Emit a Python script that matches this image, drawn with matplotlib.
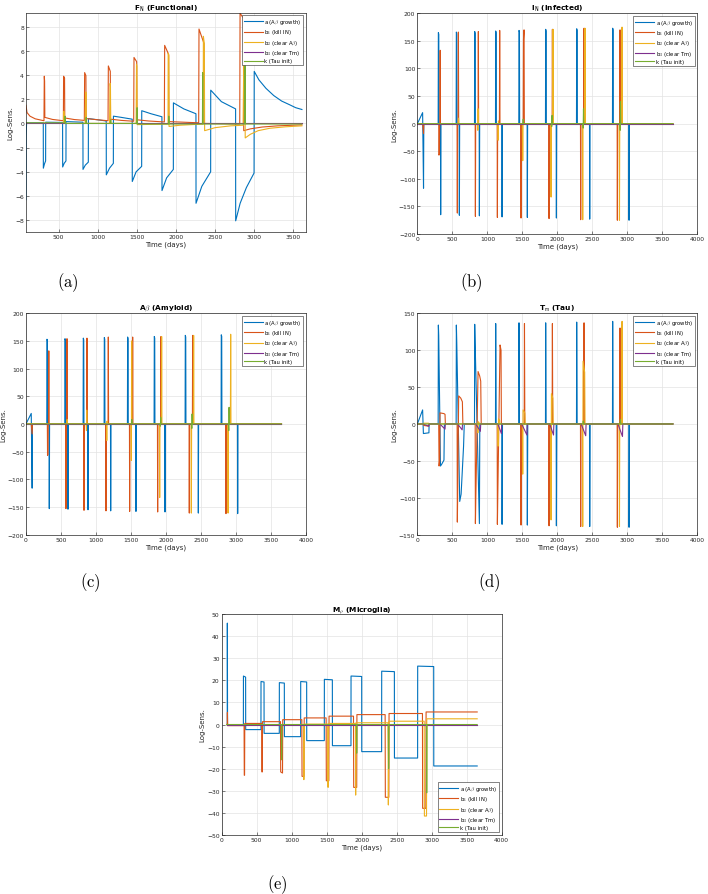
import matplotlib
matplotlib.use('Agg')
import matplotlib.pyplot as plt

plt.rcParams['mathtext.fontset'] = 'cm'

# MATLAB default line colours
colors = ['#0072BD', '#D95319', '#EDB120', '#7E2F8E', '#77AC30']
labels = [r'a (A$\beta$ growth)', r'b$_1$ (kill IN)', r'b$_2$ (clear A$\beta$)',
          r'b$_3$ (clear Tm)', 'k (Tau init)']

# ---------------- (a) F_N : (time, log-sensitivity) points ----------------
fn_a = [(82, -6.3), (84, -1.0), (90, 0.05), (303, 0.05),
        (304, -3.7), (318, -3.35), (333, -3.1), (334, 0.1), (550, 0.08),
        (551, -3.6), (570, -3.3), (593, -3.1), (594, 0.15), (810, 0.1),
        (811, -3.8), (840, -3.45), (879, -3.2), (880, 0.4), (1000, 0.3), (1108, 0.2),
        (1109, -4.25), (1150, -3.7), (1199, -3.3), (1200, 0.6), (1300, 0.5), (1440, 0.35),
        (1441, -4.8), (1490, -4.0), (1561, -3.55), (1562, 1.05), (1680, 0.8), (1820, 0.55),
        (1821, -5.55), (1880, -4.5), (1966, -3.8), (1967, 1.7), (2100, 1.2), (2255, 0.8),
        (2256, -6.6), (2330, -5.2), (2443, -4.0), (2444, 2.75), (2580, 1.8), (2762, 1.2),
        (2763, -8.05), (2820, -6.6), (2900, -5.3), (2998, -4.1), (3000, 4.3), (3060, 3.6),
        (3150, 2.9), (3250, 2.3), (3350, 1.85), (3450, 1.55), (3530, 1.3), (3610, 1.15)]
fn_b1 = [(82, 1.5), (95, 0.9), (133, 0.6), (200, 0.38), (312, 0.22),
         (316, 3.9), (320, 3.5), (323, 0.5), (420, 0.33), (560, 0.22),
         (563, 3.9), (575, 3.75), (578, 0.45), (700, 0.32), (828, 0.25),
         (832, 4.2), (848, 3.95), (851, 0.4), (1000, 0.3), (1131, 0.22),
         (1135, 4.75), (1160, 4.3), (1163, 0.35), (1300, 0.25), (1459, 0.18),
         (1463, 5.45), (1497, 5.1), (1500, 0.3), (1650, 0.2), (1851, 0.12),
         (1855, 6.45), (1906, 5.7), (1909, 0.15), (2100, 0.1), (2290, 0.05),
         (2294, 7.8), (2358, 6.6), (2361, 0.0), (2815, -0.05),
         (2819, 9.1), (2861, 8.7), (2866, -0.6), (2950, -0.45), (3100, -0.3),
         (3300, -0.2), (3610, -0.12)]
fn_b2 = [(82, 0.0), (562, 0.0), (566, 1.0), (572, 0.3), (576, 0.0), (838, 0.0),
         (846, 2.6), (850, 2.4), (853, 0.0), (1150, 0.0),
         (1158, 3.3), (1162, 3.0), (1165, 0.0), (1490, 0.0),
         (1495, 4.9), (1500, 4.7), (1503, -0.1), (1898, -0.05),
         (1900, 5.8), (1908, 5.6), (1911, -0.25), (2050, -0.15), (2348, -0.05),
         (2350, 7.2), (2362, 6.6), (2366, -0.6), (2500, -0.35), (2700, -0.2), (2858, -0.15),
         (2866, 5.2), (2880, 5.0), (2885, -1.2), (2950, -0.9), (3050, -0.6),
         (3200, -0.4), (3400, -0.28), (3610, -0.2)]
fn_b3 = [(82, 0.0), (3610, 0.0)]
fn_k = [(82, 0.05), (580, 0.05), (582, 0.6), (585, 0.0), (850, 0.0), (852, 0.5), (855, 0.0),
        (1163, 0.0), (1165, 0.3), (1168, 0.0), (1500, 0.0), (1503, 1.3), (1507, -0.05),
        (1906, -0.05), (1908, 0.6), (1912, -0.05), (2338, -0.05), (2341, 4.2), (2346, -0.05),
        (2878, -0.05), (2882, 5.0), (2888, -0.05), (3610, -0.05)]

# ---------------- (b) I_N ----------------
in_a = [(0, 0), (75, 20), (88, -117), (92, 0),
        (297, 0), (300, 165), (306, 162), (309, 0), (330, 0), (333, -165), (337, 0),
        (554, 0), (557, 166), (563, 163), (566, 0), (597, 0), (600, -166), (604, 0),
        (816, 0), (819, 167), (825, 164), (828, 0), (883, 0), (886, -167), (890, 0),
        (1116, 0), (1119, 168), (1125, 165), (1128, 0), (1207, 0), (1210, -169), (1214, 0),
        (1449, 0), (1452, 169), (1458, 166), (1461, 0), (1568, 0), (1571, -170), (1575, 0),
        (1830, 0), (1833, 171), (1839, 168), (1842, 0), (1983, 0), (1986, -171), (1990, 0),
        (2273, 0), (2276, 172), (2282, 169), (2285, 0), (2459, 0), (2462, -173), (2466, 0),
        (2787, 0), (2790, 173), (2796, 170), (2799, 0), (3021, 0), (3024, -175), (3028, 0),
        (3650, 0)]
in_b1 = [(0, 0), (75, 0), (88, -18), (92, 0),
         (305, 0), (308, -57), (314, -55), (318, 0), (322, 0), (326, 133), (330, 0),
         (567, 0), (571, -162), (575, 0), (582, 0), (586, 166), (590, 0),
         (826, 0), (829, -168), (833, 0), (867, 0), (871, 167), (875, 0),
         (1140, 0), (1143, -170), (1147, 0), (1172, 0), (1176, 169), (1180, 0),
         (1478, 0), (1481, -171), (1485, 0), (1512, 0), (1516, 153), (1524, 170), (1528, 0),
         (1878, 0), (1881, -172), (1885, 0), (1925, 0), (1929, 171), (1933, 0),
         (2330, 0), (2333, -174), (2337, 0), (2377, 0), (2381, 173), (2385, 0),
         (2854, 0), (2857, -175), (2861, 0), (2891, 0), (2895, 170), (2899, 0), (3650, 0)]
in_b2 = [(0, 0), (583, 0), (588, 10), (592, 0),
         (860, 0), (864, -12), (868, 27), (872, 0),
         (1150, 0), (1154, -30), (1158, 5), (1162, 0),
         (1500, 0), (1505, -67), (1510, 0),
         (1905, 0), (1910, -133), (1914, 0), (1934, 0), (1938, 171), (1942, 0),
         (2358, 0), (2362, -174), (2366, 0), (2391, 0), (2395, 173), (2399, 0),
         (2883, 0), (2887, -175), (2891, 0), (2920, 0), (2924, 175), (2928, 0), (3650, 0)]
in_b3 = [(0, 0), (3650, 0)]
in_k = [(0, 0), (1508, 0), (1512, 8), (1516, 0), (1915, 0), (1920, -5), (1924, 15),
        (1928, 0), (2365, 0), (2369, -8), (2373, 27), (2377, 0), (2893, 0), (2897, -12),
        (2901, 40), (2905, 0), (3650, 0)]

# ---------------- (c) A-beta ----------------
ab_a = [(0, 0), (75, 19), (88, -116), (92, 0),
        (297, 0), (300, 153), (306, 150), (309, 0), (330, 0), (333, -153), (337, 0),
        (554, 0), (557, 154), (563, 151), (566, 0), (597, 0), (600, -154), (604, 0),
        (816, 0), (819, 155), (825, 152), (828, 0), (883, 0), (886, -155), (890, 0),
        (1116, 0), (1119, 156), (1125, 153), (1128, 0), (1207, 0), (1210, -157), (1214, 0),
        (1449, 0), (1452, 157), (1458, 154), (1461, 0), (1568, 0), (1571, -158), (1575, 0),
        (1830, 0), (1833, 158), (1839, 155), (1842, 0), (1983, 0), (1986, -159), (1990, 0),
        (2273, 0), (2276, 160), (2282, 157), (2285, 0), (2459, 0), (2462, -161), (2466, 0),
        (2787, 0), (2790, 161), (2796, 158), (2799, 0), (3021, 0), (3024, -162), (3028, 0),
        (3650, 0)]
ab_b1 = [(0, 0), (75, 0), (88, -18), (92, 0),
         (305, 0), (308, -57), (314, -55), (318, 0), (322, 0), (326, 132), (330, 0),
         (567, 0), (571, -153), (575, 0), (582, 0), (586, 154), (590, 0),
         (826, 0), (829, -156), (833, 0), (867, 0), (871, 155), (875, 0),
         (1140, 0), (1143, -157), (1147, 0), (1172, 0), (1176, 157), (1180, 0),
         (1478, 0), (1481, -158), (1485, 0), (1520, 0), (1524, 157), (1528, 0),
         (1878, 0), (1881, -159), (1885, 0), (1925, 0), (1929, 158), (1933, 0),
         (2330, 0), (2333, -161), (2337, 0), (2377, 0), (2381, 160), (2385, 0),
         (2854, 0), (2857, -162), (2861, 0), (3650, 0)]
ab_b2 = [(0, 0), (583, 0), (588, 8), (592, 0),
         (860, 0), (864, -12), (868, 25), (872, 0),
         (1150, 0), (1154, -30), (1158, 5), (1162, 0),
         (1500, 0), (1505, -66), (1510, 150), (1514, 0),
         (1905, 0), (1910, -133), (1914, 0), (1934, 0), (1938, 158), (1942, 0),
         (2358, 0), (2362, -161), (2366, 0), (2391, 0), (2395, 160), (2399, 0),
         (2883, 0), (2887, -161), (2891, 0), (2920, 0), (2924, 162), (2928, 0), (3650, 0)]
ab_b3 = [(0, 0), (3650, 0)]
ab_k = [(0, 0), (1508, 0), (1512, 8), (1516, 0), (1915, 0), (1920, -4), (1924, 12),
        (1928, 0), (2365, 0), (2369, -8), (2373, 18), (2377, 0), (2893, 0), (2897, -12),
        (2901, 30), (2905, 0), (3650, 0)]

# ---------------- (d) T_m ----------------
tm_a = [(0, 0), (75, 19), (86, -13), (165, -12), (168, 0),
        (297, 0), (300, 134), (305, 120), (330, -57), (345, -55), (380, -49), (386, 0),
        (554, 0), (557, 134), (563, 110), (605, -105), (625, -95), (660, -30), (670, 0),
        (816, 0), (819, 135), (825, 110), (886, -135), (892, 0),
        (1116, 0), (1119, 136), (1125, 0), (1207, 0), (1210, -136), (1216, 0),
        (1449, 0), (1452, 137), (1458, 0), (1568, 0), (1571, -137), (1577, 0),
        (1830, 0), (1833, 137), (1839, 0), (1983, 0), (1986, -138), (1992, 0),
        (2273, 0), (2276, 138), (2282, 0), (2459, 0), (2462, -139), (2468, 0),
        (2787, 0), (2790, 139), (2796, 0), (3021, 0), (3024, -140), (3030, 0), (3650, 0)]
tm_b1 = [(0, 0), (80, 0), (90, -2), (160, -3), (170, 0),
         (305, 0), (310, -57), (318, -50), (323, 15), (380, 14), (395, 13), (400, 0),
         (568, 0), (571, -133), (575, -100), (590, 38), (620, 35), (643, 30), (650, 0),
         (826, 0), (829, -135), (835, -100), (867, 71), (890, 65), (905, 58), (912, 0),
         (1140, 0), (1143, -136), (1150, -90), (1181, 107), (1195, 100), (1200, 0),
         (1478, 0), (1481, -137), (1485, 0), (1526, 0), (1530, 136), (1535, 0),
         (1878, 0), (1881, -138), (1885, 0), (1925, 0), (1929, 136), (1934, 0),
         (2330, 0), (2333, -139), (2337, 0), (2377, 0), (2381, 137), (2386, 0),
         (2854, 0), (2857, -140), (2861, 0), (2891, 0), (2895, 130), (2900, 0), (3650, 0)]
tm_b2 = [(0, 0), (80, 0), (90, 1), (160, 1), (170, 0),
         (860, 0), (864, -12), (868, 3), (880, 2), (885, 0),
         (1150, 0), (1154, -30), (1159, 7), (1175, 5), (1180, 0),
         (1500, 0), (1505, -68), (1510, 19), (1535, 15), (1540, 0),
         (1905, 0), (1910, -130), (1915, 41), (1935, 35), (1940, 0),
         (2358, 0), (2362, -139), (2367, 85), (2390, 70), (2395, 0),
         (2883, 0), (2887, -139), (2891, 0), (2920, 0), (2924, 139), (2928, 0), (3650, 0)]
tm_b3 = [(0, 0), (80, 0), (160, -3), (170, 0),
         (320, 0), (395, -7), (400, 0), (575, 0), (640, -8), (645, 0),
         (835, 0), (900, -10), (905, 0), (1150, 0), (1200, -13), (1205, 0),
         (1490, 0), (1565, -15), (1570, 0), (1890, 0), (1945, -15), (1950, 0),
         (2340, 0), (2405, -16), (2410, 0), (2865, 0), (2930, -17), (2935, 0), (3650, 0)]
tm_k = [(0, 0), (2365, 0), (2370, 4), (2376, 0), (2895, 0), (2900, 6), (2906, 0), (3650, 0)]

# ---------------- (e) M_rho ----------------
mr_a = [(72, 0), (80, 0), (81, 46), (84, 0), (310, -0.3),
        (311, 22), (342, 21.5), (343, -2.3), (561, -2.3),
        (562, 19.5), (605, 19.3), (606, -4.0), (823, -4.0),
        (824, 19), (895, 18.8), (896, -5.5), (1128, -5.5),
        (1129, 19.5), (1214, 19.3), (1215, -7.3), (1466, -7.3),
        (1467, 20.5), (1581, 20.3), (1582, -9.6), (1847, -9.6),
        (1848, 22), (2000, 21.8), (2001, -12.3), (2285, -12.3),
        (2286, 24.2), (2467, 24), (2468, -15.2), (2799, -15.2),
        (2800, 26.5), (3029, 26.3), (3030, -18.8), (3650, -18.8)]
mr_b1 = [(72, 0), (80, 0), (82, 5.5), (85, -0.5), (320, -0.5),
         (323, -23), (327, -23), (330, 0.5), (572, 0.5),
         (575, -21.5), (580, -21.5), (583, 1.3), (840, 1.3),
         (843, -21.5), (869, -22), (872, 2.2), (1145, 2.2),
         (1148, -23.5), (1176, -23.5), (1179, 3.0), (1492, 3.0),
         (1495, -25.5), (1531, -25.5), (1534, 3.8), (1883, 3.8),
         (1886, -28.5), (1929, -28.5), (1932, 4.5), (2335, 4.5),
         (2338, -33), (2388, -33), (2391, 5.0), (2868, 5.0),
         (2871, -38), (2917, -38), (2920, 5.7), (3650, 5.7)]
mr_b2 = [(72, 0), (1170, 0), (1174, -25), (1178, 0.2), (1516, 0.2), (1520, -28.5),
         (1525, 0.5), (1910, 0.5), (1914, -32), (1919, 0.8), (2376, 0.8), (2381, -36.5),
         (2388, 1.5), (2893, 1.5), (2896, -41.5), (2926, -41.5), (2930, 2.6), (3650, 2.6)]
mr_b3 = [(72, 0), (3650, 0)]
mr_k = [(72, 0), (852, 0), (856, -16), (860, 0), (1924, 0), (1929, -13), (1934, 0),
        (2380, 0), (2385, -20), (2390, 0), (2925, 0), (2929, -31), (2934, 0), (3650, 0)]


def draw(ax, series, title, xlim, xticks, ylim, yticks, legloc):
    for pts, c, lab in zip(series, colors, labels):
        t = [p[0] for p in pts]
        v = [p[1] for p in pts]
        ax.plot(t, v, color=c, lw=0.8, label=lab)
    ax.set_xlim(xlim)
    ax.set_ylim(ylim)
    ax.set_xticks(xticks)
    ax.set_yticks(yticks)
    ax.grid(True, color='#e3e3e3', lw=0.5)
    ax.set_axisbelow(True)
    ax.tick_params(labelsize=4.3, length=2, width=0.4, direction='in',
                   colors='#262626', pad=1.5)
    for s in ax.spines.values():
        s.set_linewidth(0.5)
        s.set_color('#262626')
    ax.set_title(title, fontsize=5.3, fontweight='bold', pad=2)
    ax.set_xlabel('Time (days)', fontsize=5, labelpad=1, color='#262626')
    ax.set_ylabel('Log-Sens.', fontsize=5, labelpad=1, color='#262626')
    leg = ax.legend(loc=legloc, fontsize=3.8, frameon=True, fancybox=False,
                    framealpha=1, edgecolor='#262626', handlelength=3.6,
                    borderpad=0.35, labelspacing=0.25, borderaxespad=0.5,
                    handletextpad=0.3)
    leg.get_frame().set_linewidth(0.4)


fig = plt.figure(figsize=(7.08, 8.95), dpi=100)
ticks4k = list(range(0, 4001, 500))

ax1 = fig.add_axes([0.0367, 0.7393, 0.3955, 0.2454])
draw(ax1, [fn_a, fn_b1, fn_b2, fn_b3, fn_k], r'F$_\mathsf{N}$ (Functional)',
     (82, 3662), list(range(500, 3501, 500)), (-9.0, 9.15), list(range(-8, 9, 2)),
     'upper right')

ax2 = fig.add_axes([0.5895, 0.7374, 0.3955, 0.2466])
draw(ax2, [in_a, in_b1, in_b2, in_b3, in_k], r'I$_\mathsf{N}$ (Infected)',
     (0, 4000), ticks4k, (-200, 200), list(range(-200, 201, 50)), 'upper right')

ax3 = fig.add_axes([0.0367, 0.4015, 0.3955, 0.2474])
draw(ax3, [ab_a, ab_b1, ab_b2, ab_b3, ab_k], r'A$\beta$ (Amyloid)',
     (0, 4000), ticks4k, (-200, 200), list(range(-200, 201, 50)), 'upper right')

ax4 = fig.add_axes([0.5895, 0.4015, 0.3955, 0.2474])
draw(ax4, [tm_a, tm_b1, tm_b2, tm_b3, tm_k], r'T$_\mathsf{m}$ (Tau)',
     (0, 4000), ticks4k, (-150, 150), list(range(-150, 151, 50)), 'upper right')

ax5 = fig.add_axes([0.3131, 0.0662, 0.3955, 0.2463])
draw(ax5, [mr_a, mr_b1, mr_b2, mr_b3, mr_k], r'M$_\rho$ (Microglia)',
     (0, 4000), ticks4k, (-50, 50), list(range(-50, 51, 10)), 'lower right')

# subfigure captions
for x, y, s in [(68, 283, '(a)'), (471, 283, '(b)'), (90, 583, '(c)'),
                (489, 583, '(d)'), (277, 885, '(e)')]:
    fig.text(x / 708, 1 - y / 895, r'$\mathrm{' + s + '}$', fontsize=12,
             ha='center', va='center')

fig.savefig('out.png', dpi=100)
